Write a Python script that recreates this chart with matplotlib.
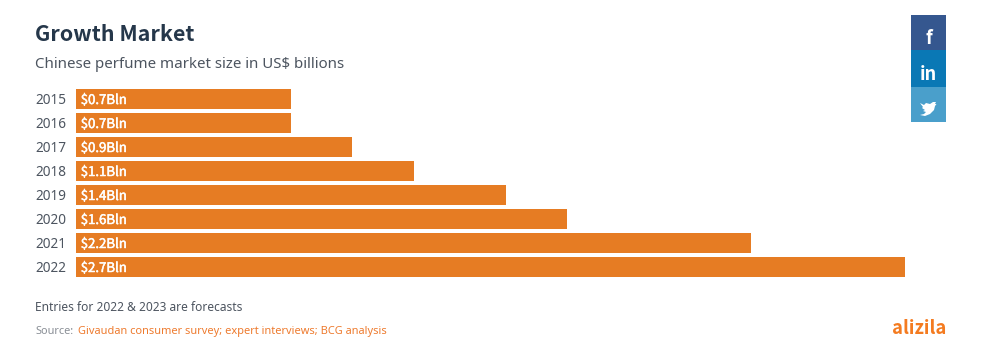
import matplotlib
matplotlib.use("Agg")
import matplotlib.pyplot as plt
import matplotlib.patheffects as pe
from matplotlib.patches import Polygon, Rectangle

years = ["2015", "2016", "2017", "2018", "2019", "2020", "2021", "2022"]
values = [0.7, 0.7, 0.9, 1.1, 1.4, 1.6, 2.2, 2.7]
bar_labels = ["$0.7Bln", "$0.7Bln", "$0.9Bln", "$1.1Bln", "$1.4Bln", "$1.6Bln", "$2.2Bln", "$2.7Bln"]

W, H = 987, 352
ORANGE = "#e67c23"
DARK = "#25374a"
GREY = "#4d5560"
BOLD = ["Noto Sans CJK SC", "DejaVu Sans"]

plt.rcParams["font.family"] = ["Noto Sans", "DejaVu Sans"]
plt.rcParams["text.parse_math"] = False

fig = plt.figure(figsize=(W / 100, H / 100), dpi=100, facecolor="white")


def fx(px):
    return px / W


def fy(py):
    return 1 - py / H


ax = fig.add_axes([fx(76), fy(277), (905 - 76) / W, (277 - 89) / H])
pos = list(range(len(years)))
ax.barh(pos, values, height=20 / 24, color=ORANGE)
ax.set_xlim(0, 2.7)
ax.set_ylim(7 + 10 / 24, -10 / 24)
ax.set_yticks(pos)
ax.set_yticklabels(years, fontsize=9.8, color=GREY)
ax.set_xticks([])
ax.tick_params(axis="y", length=0, pad=7.2)
for side in ["left", "top", "right", "bottom"]:
    ax.spines[side].set_visible(False)

# regular weight with a thin stroke, no medium weight is installed
medium = [pe.withStroke(linewidth=0.35, foreground="white")]
for p, label in zip(pos, bar_labels):
    ax.annotate(label, (0, p), xytext=(3.4, 0), textcoords="offset points",
                color="white", fontsize=9.5, family=BOLD,
                ha="left", va="center_baseline", path_effects=medium)

fig.text(fx(35.5), fy(41), "Growth Market", fontsize=15.4, family=BOLD, fontweight="bold",
         color=DARK, ha="left", va="baseline")
fig.text(fx(35), fy(68.5), "Chinese perfume market size in US$ billions",
         fontsize=10.85, color=GREY, ha="left", va="baseline")
fig.text(fx(35), fy(311), "Entries for 2022 & 2023 are forecasts",
         fontsize=8.6, color=GREY, ha="left", va="baseline")
fig.text(fx(35), fy(334), "Source:", fontsize=7.9, color="#8a8f96",
         ha="left", va="baseline")
fig.text(fx(77.5), fy(334), "Givaudan consumer survey; expert interviews; BCG analysis",
         fontsize=7.95, color="#ee7b2f", ha="left", va="baseline")
fig.text(fx(946.5), fy(334), "alizila", fontsize=13.3, family=BOLD, fontweight="bold",
         color="#f47b20", ha="right", va="baseline")

# share buttons
buttons = [(15, 35, "#35578f"), (50, 37, "#0a78b5"), (87, 35, "#4a9fcb")]
for top, height, colour in buttons:
    fig.add_artist(Rectangle((fx(911), fy(top + height)), 35 / W, height / H,
                             transform=fig.transFigure, color=colour, lw=0))
fig.text(fx(929), fy(44.5), "f", fontsize=13, family=BOLD, fontweight="bold", color="white",
         ha="center", va="baseline")
fig.text(fx(928.5), fy(79.5), "in", fontsize=13, family=BOLD, fontweight="bold", color="white",
         ha="center", va="baseline")
bird = [(920, 103), (924, 105), (926, 103), (930, 104), (933, 102), (936, 102),
        (935, 104), (936.5, 104), (935, 106), (934, 110), (930, 114), (925, 116),
        (920, 115), (924, 114), (926, 112), (923, 111), (925, 110), (922, 108),
        (923, 107)]
fig.add_artist(Polygon([(fx(x), fy(y)) for x, y in bird], closed=True,
                       transform=fig.transFigure, color="white", lw=0))

fig.savefig("out.png", dpi=100)
